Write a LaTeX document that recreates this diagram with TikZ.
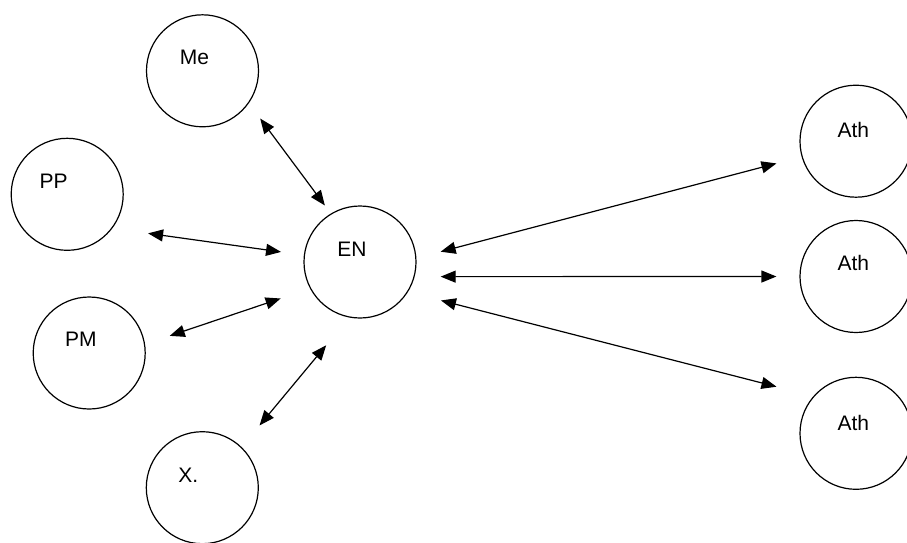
\documentclass[tikz,border=0pt]{standalone}
\usepackage{fontspec}
\setmainfont{Liberation Sans}
\usetikzlibrary{arrows.meta,calc}
\begin{document}
\begin{tikzpicture}[x=1pt,y=-1pt,
  ent/.style={circle,draw,line width=1.2pt,minimum size=112pt,inner sep=0pt},
  lbl/.style={font=\fontsize{21}{25}\selectfont,inner sep=0pt},
  link/.style={line width=1.2pt,{Triangle[length=15pt,width=12pt]}-{Triangle[length=15pt,width=12pt]}}]
\useasboundingbox (0,0) rectangle (907,542);
\node[ent] (me) at (202.5,70.8) {};
\node[ent] (pp) at (67.2,194.3) {};
\node[ent] (pm) at (89.2,353) {};
\node[ent] (x) at (202.3,487.7) {};
\node[ent] (en) at (360,262) {};
\node[ent] (a1) at (856,141.2) {};
\node[ent] (a2) at (856,276.5) {};
\node[ent] (a3) at (856,433.3) {};
\node[lbl] (tme) at ($(me)+(-8,-13.3)$) {Me};
\node[lbl] (tpp) at ($(pp)+(-13.5,-12.6)$) {PP};
\node[lbl] (tpm) at ($(pm)+(-8.4,-13.3)$) {PM};
\node[lbl] (tx) at ($(x)+(-14,-12.7)$) {X.};
\node[lbl] (ten) at ($(en)+(-8,-13)$) {EN};
\node[lbl] (ta1) at ($(a1)+(-2.7,-11.7)$) {Ath};
\node[lbl] (ta2) at ($(a2)+(-2.7,-13.2)$) {Ath};
\node[lbl] (ta3) at ($(a3)+(-2.7,-10.3)$) {Ath};
\draw[link,shorten <=19pt,shorten >=10pt] (me.-35) -- (en.121);
\draw[link,shorten <=36pt,shorten >=23pt] (pp.-37) -- (en.173);
\draw[link,shorten <=26pt,shorten >=31pt] (pm.9) -- (en.208);
\draw[link,shorten <=28pt,shorten >=36pt] (x.46) -- (en.259);
\draw[link,shorten <=25pt,shorten >=26pt] (en.4) -- (a1.196);
\draw[link,shorten <=26pt,shorten >=23pt] (en.-15) -- (a2.180);
\draw[link,shorten <=34pt,shorten >=38pt] (en.-32) -- (a3.139);
\end{tikzpicture}
\end{document}
